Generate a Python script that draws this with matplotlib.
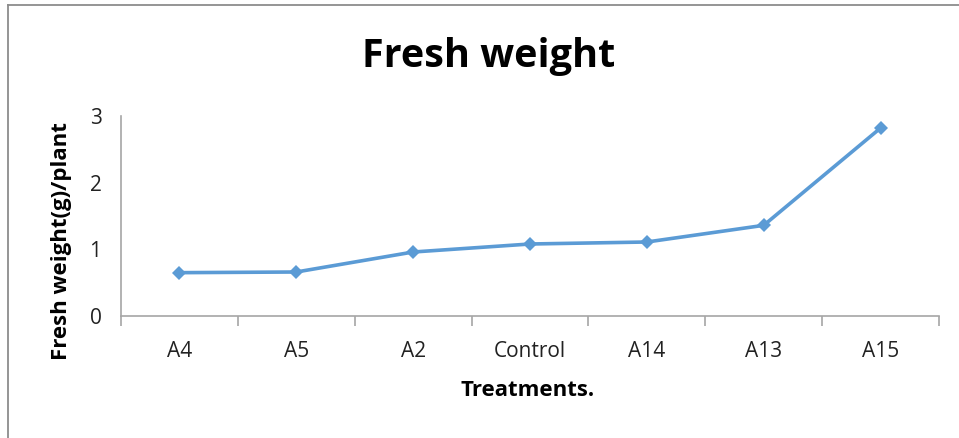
import matplotlib.pyplot as plt
from matplotlib.lines import Line2D

treatments = ["A4", "A5", "A2", "Control", "A14", "A13", "A15"]
fresh_weight = [0.65, 0.66, 0.96, 1.08, 1.11, 1.36, 2.82]
y_ticks = [0, 1, 2, 3]

plt.rcParams["font.family"] = ["Open Sans", "DejaVu Sans"]

W, H = 959, 438
fig = plt.figure(figsize=(W / 100, H / 100), dpi=100)
ax = fig.add_axes([121 / W, 1 - 316 / H, (939 - 121) / W, 200 / H])

x = list(range(len(treatments)))
ax.plot(x, fresh_weight, color="#5B9BD5", linewidth=2.6, marker="D", markersize=7,
        markeredgewidth=0, solid_capstyle="round")

ax.set_xlim(-0.5, len(treatments) - 0.5)
ax.set_ylim(0, 3)
ax.set_yticks(y_ticks)
ax.tick_params(axis="y", length=0, pad=14, labelsize=15, labelcolor="#222222")

# category labels in the middle, tick marks on the boundaries
ax.set_xticks(x)
ax.set_xticklabels(treatments, fontsize=15, color="#222222")
ax.tick_params(axis="x", which="major", length=0, pad=18)
ax.set_xticks([i - 0.5 for i in range(len(treatments) + 1)], minor=True)
ax.tick_params(axis="x", which="minor", length=7, width=1.2, color="#A6A6A6", direction="out")

for side in ["top", "right"]:
    ax.spines[side].set_visible(False)
for side in ["left", "bottom"]:
    ax.spines[side].set_color("#A6A6A6")
    ax.spines[side].set_linewidth(1.2)

ax.set_xlabel("Treatments.", fontsize=16, fontweight="bold", va="center")
ax.xaxis.set_label_coords((528 - 121) / 818, (316 - 390) / 200)
ax.set_ylabel("Fresh weight(g)/plant", fontsize=16, fontweight="bold", va="center")
ax.yaxis.set_label_coords((62 - 121) / 818, (316 - 241) / 200)

fig.text(489 / W, 1 - 57 / H, "Fresh weight", fontsize=28.5, fontweight="bold",
         ha="center", va="center")

# outer chart frame
fig.add_artist(Line2D([7.5 / W, 1], [1 - 4.5 / H, 1 - 4.5 / H], transform=fig.transFigure,
                      color="#8C8C8C", linewidth=1.3))
fig.add_artist(Line2D([7.5 / W, 7.5 / W], [0, 1 - 4.5 / H], transform=fig.transFigure,
                      color="#8C8C8C", linewidth=1.3))

fig.savefig("out.png", dpi=100)
